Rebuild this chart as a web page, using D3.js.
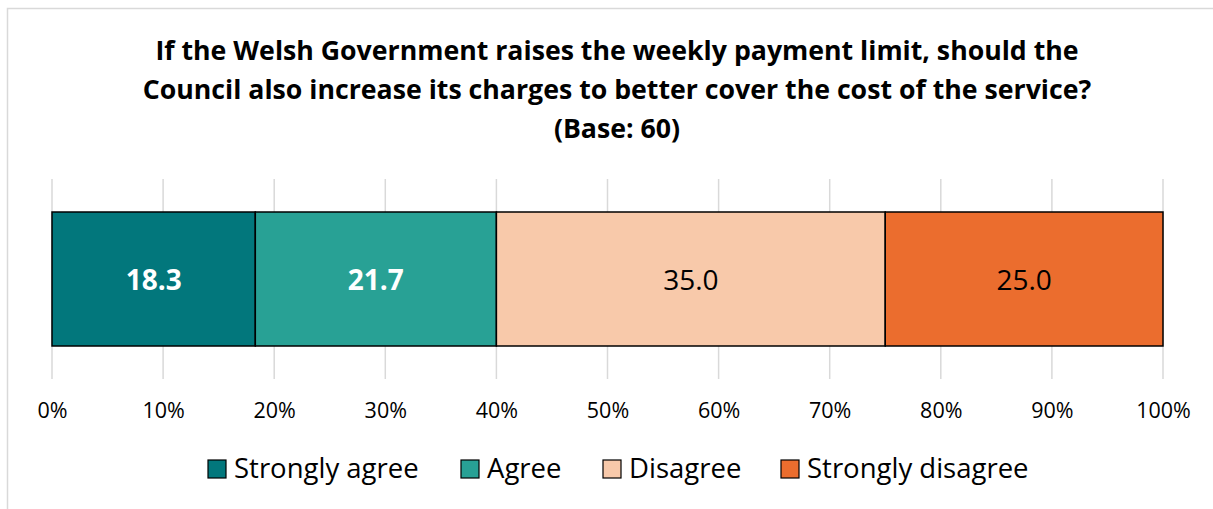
<!DOCTYPE html>
<html>
<head>
<meta charset="utf-8">
<script src="https://cdn.jsdelivr.net/npm/d3@7"></script>
<style>
  body { margin: 0; background: #fff; }
  text { font-family: "Open Sans", "Noto Sans", sans-serif; }
</style>
</head>
<body>
<div id="chart"></div>
<script>
var categories = ["Strongly agree", "Agree", "Disagree", "Strongly disagree"];
var values = [18.3, 21.7, 35.0, 25.0];
var colors = ["#02777c", "#28a195", "#f8c9aa", "#eb6d2e"];
var labelColors = ["#ffffff", "#ffffff", "#000000", "#000000"];
var labelBold = [true, true, false, false];
var tickValues = [0, 10, 20, 30, 40, 50, 60, 70, 80, 90, 100];
var titleLines = [
    "If the Welsh Government raises the weekly payment limit, should the",
    "Council also increase its charges to better cover the cost of the service?",
    "(Base: 60)"
];

var W = 1213, H = 509;
var plotTop = 179, plotBottom = 379;

var svg = d3.select("#chart").append("svg")
    .attr("width", W)
    .attr("height", H);

// chart area border
svg.append("rect")
    .attr("x", 7.5).attr("y", 8.5)
    .attr("width", 1240).attr("height", 600)
    .attr("fill", "#fff")
    .attr("stroke", "#d9d9d9")
    .attr("stroke-width", 1.5);

var x = d3.scaleLinear()
    .domain([0, 100])
    .range([52, 1163]);

var y = d3.scaleBand()
    .domain(["q"])
    .range([plotTop, plotBottom])
    .paddingInner(0.33)
    .paddingOuter(0.165);

// gridlines
svg.append("g")
    .selectAll("line")
    .data(tickValues)
    .enter().append("line")
    .attr("x1", function(d) { return x(d); })
    .attr("x2", function(d) { return x(d); })
    .attr("y1", plotTop)
    .attr("y2", plotBottom)
    .style("stroke", "#d9d9d9")
    .style("stroke-width", 1.5);

// x axis labels
var xAxis = d3.axisBottom(x)
    .tickValues(tickValues)
    .tickSize(0)
    .tickPadding(0)
    .tickFormat(function(d) { return d + "%"; });

var axisG = svg.append("g")
    .attr("transform", "translate(0,418)")
    .call(xAxis);
axisG.select(".domain").remove();
axisG.selectAll("text")
    .attr("y", 0)
    .attr("dy", 0)
    .attr("font-size", 21.5)
    .attr("fill", "#000")
    .style("font-family", "'Open Sans', sans-serif");

// stacked bar
var stack = [];
var acc = 0;
values.forEach(function(v, i) {
    stack.push({ cat: categories[i], v: v, x0: acc, x1: acc + v, i: i });
    acc += v;
});

var bars = svg.append("g");
bars.selectAll("rect")
    .data(stack)
    .enter().append("rect")
    .attr("x", function(d) { return x(d.x0); })
    .attr("width", function(d) { return x(d.x1) - x(d.x0); })
    .attr("y", y("q"))
    .attr("height", y.bandwidth())
    .attr("fill", function(d) { return colors[d.i]; })
    .attr("stroke", "#000")
    .attr("stroke-width", 1.5);

bars.selectAll("text")
    .data(stack)
    .enter().append("text")
    .attr("x", function(d) { return x((d.x0 + d.x1) / 2); })
    .attr("y", 290)
    .attr("text-anchor", "middle")
    .attr("font-size", 28)
    .attr("font-weight", function(d) { return labelBold[d.i] ? "bold" : "normal"; })
    .attr("fill", function(d) { return labelColors[d.i]; })
    .text(function(d) { return d.v.toFixed(1); });

// title
svg.append("g").selectAll("text")
    .data(titleLines)
    .enter().append("text")
    .attr("x", 617)
    .attr("y", function(d, i) { return 60 + i * 39; })
    .attr("text-anchor", "middle")
    .attr("font-size", 26.7)
    .attr("font-weight", "bold")
    .attr("fill", "#000")
    .text(function(d) { return d; });

// legend
var legendX = [208, 461, 603, 781];
var legend = svg.append("g").selectAll("g")
    .data(categories)
    .enter().append("g")
    .attr("transform", function(d, i) { return "translate(" + legendX[i] + ",460)"; });
legend.append("rect")
    .attr("width", 18).attr("height", 18)
    .attr("fill", function(d, i) { return colors[i]; })
    .attr("stroke", "#000")
    .attr("stroke-width", 1.2);
legend.append("text")
    .attr("x", 26)
    .attr("y", 18)
    .attr("font-size", 27.5)
    .attr("fill", "#000")
    .text(function(d) { return d; });
</script>
</body>
</html>
